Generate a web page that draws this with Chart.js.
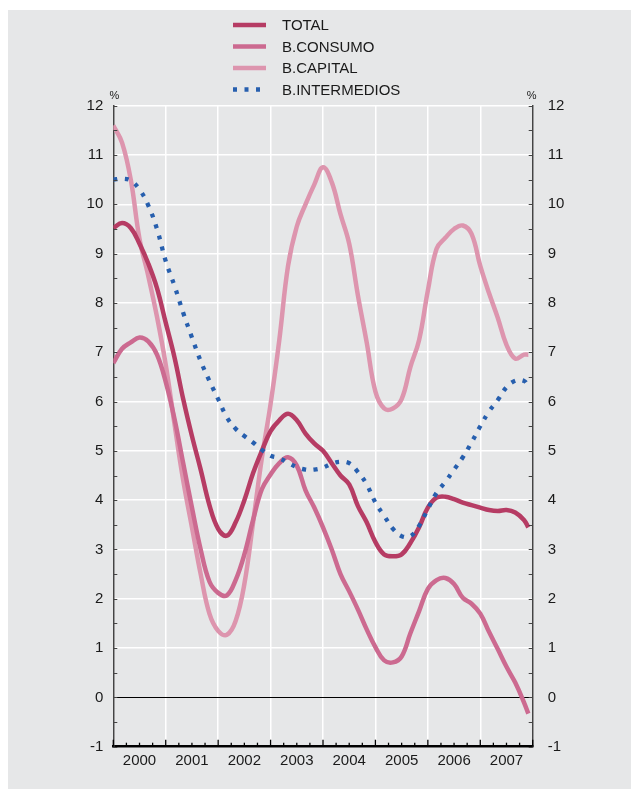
<!DOCTYPE html>
<html>
<head>
<meta charset="utf-8">
<script src="https://cdn.jsdelivr.net/npm/chart.js@4/dist/chart.umd.min.js"></script>
<style>
  html, body { margin: 0; padding: 0; background: #ffffff; }
  #wrap { width: 631px; height: 796px; }
</style>
</head>
<body>
<div id="wrap"><canvas id="chart" width="631" height="796"></canvas></div>
<script>
// month index from Jan 2000 (0) to Dec 2007 (95), read every two months
const months = [0, 2, 4, 6, 8, 10, 12, 14, 16, 18, 20, 22, 24, 26, 28, 30, 32, 34, 36, 38, 40, 42, 44, 46,
  48, 50, 52, 54, 56, 58, 60, 62, 64, 66, 68, 70, 72, 74, 76, 78, 80, 82, 84, 86, 88, 90, 92, 94, 95];
const yearLabels = ['2000', '2001', '2002', '2003', '2004', '2005', '2006', '2007'];
const seriesNames = ['TOTAL', 'B.CONSUMO', 'B.CAPITAL', 'B.INTERMEDIOS'];

const total = [9.52, 9.62, 9.52, 9.2, 8.8, 8.3, 7.6, 6.9, 6.05, 5.3, 4.62, 3.9, 3.42, 3.28, 3.55, 4.0,
  4.55, 5.0, 5.4, 5.62, 5.75, 5.62, 5.35, 5.15, 5.0, 4.75, 4.5, 4.32, 3.88, 3.55, 3.15, 2.9, 2.86, 2.9,
  3.13, 3.45, 3.85, 4.05, 4.07, 4.02, 3.95, 3.9, 3.85, 3.8, 3.78, 3.8, 3.75, 3.6, 3.45];
const consumo = [6.78, 7.07, 7.2, 7.3, 7.22, 6.95, 6.4, 5.65, 4.75, 3.85, 3.0, 2.35, 2.12, 2.07, 2.38, 2.9,
  3.6, 4.22, 4.52, 4.75, 4.87, 4.7, 4.2, 3.85, 3.45, 3.0, 2.5, 2.15, 1.78, 1.38, 1.02, 0.75, 0.71, 0.83,
  1.3, 1.75, 2.2, 2.38, 2.42, 2.3, 2.02, 1.9, 1.7, 1.33, 0.98, 0.62, 0.3, -0.1, -0.33];
const capital = [11.6, 11.25, 10.5, 9.3, 8.55, 7.72, 6.75, 5.55, 4.4, 3.45, 2.5, 1.7, 1.35, 1.27, 1.55, 2.3,
  3.55, 4.85, 5.95, 7.25, 8.75, 9.55, 10.0, 10.4, 10.75, 10.45, 9.8, 9.2, 8.15, 7.2, 6.2, 5.86, 5.86, 6.05,
  6.7, 7.25, 8.25, 9.1, 9.32, 9.5, 9.57, 9.4, 8.75, 8.2, 7.7, 7.15, 6.87, 6.95, 6.95];
const intermedios = [10.5, 10.52, 10.48, 10.3, 9.98, 9.5, 8.85, 8.35, 7.8, 7.3, 6.82, 6.42, 6.05, 5.68, 5.45, 5.3,
  5.17, 5.02, 4.9, 4.85, 4.76, 4.67, 4.62, 4.62, 4.66, 4.74, 4.78, 4.75, 4.57, 4.32, 3.95, 3.68, 3.42, 3.27,
  3.27, 3.48, 3.82, 4.15, 4.37, 4.62, 4.87, 5.17, 5.5, 5.8, 6.03, 6.29, 6.42, 6.42, 6.3];

const LEFT = 113.3, RIGHT = 532.7, TOP = 105.7, BOTTOM = 746.7;
const FONT = "'Liberation Sans', Arial, Helvetica, sans-serif";
const textColor = '#1a1a1a';

function pts(vals) {
  return months.map((m, k) => ({ x: m, y: vals[k] }));
}

// background panel, inward ticks, % marks and legend
const decor = {
  id: 'decor',
  beforeDraw(chart) {
    const ctx = chart.ctx;
    ctx.save();
    ctx.fillStyle = '#e6e7e8';
    ctx.fillRect(8, 10, 623, 779);
    ctx.restore();
  },
  afterDraw(chart) {
    const ctx = chart.ctx;
    const y = chart.scales.y, x = chart.scales.x;
    const a = chart.chartArea;
    ctx.save();
    // y ticks, integers and halves, pointing into the plot
    ctx.strokeStyle = '#444';
    ctx.lineWidth = 1.2;
    for (let v = -1; v <= 12; v += 0.5) {
      const py = Math.round(y.getPixelForValue(v)) + 0.5;
      ctx.beginPath();
      ctx.moveTo(a.left, py); ctx.lineTo(a.left + 4, py);
      ctx.moveTo(a.right, py); ctx.lineTo(a.right - 4, py);
      ctx.stroke();
    }
    // x ticks: quarters short, years long
    ctx.strokeStyle = '#000';
    ctx.lineWidth = 1.3;
    for (let m = 0; m <= 96; m += 3) {
      const px = x.getPixelForValue(m);
      const len = m % 12 === 0 ? 7 : 4;
      ctx.beginPath();
      ctx.moveTo(px, a.bottom); ctx.lineTo(px, a.bottom - len);
      ctx.stroke();
    }
    // % marks
    ctx.fillStyle = textColor;
    ctx.font = '11px ' + FONT;
    ctx.textAlign = 'center';
    ctx.textBaseline = 'middle';
    ctx.fillText('%', a.left + 1, 96);
    ctx.fillText('%', a.right - 1, 96);
    // legend
    ctx.font = '15px ' + FONT;
    ctx.textAlign = 'left';
    chart.data.datasets.forEach((ds, k) => {
      const ly = 25 + k * 21.5;
      ctx.strokeStyle = ds.borderColor;
      ctx.lineWidth = ds.borderDash ? 4.3 : 4.5;
      ctx.lineCap = 'butt';
      ctx.setLineDash(ds.borderDash || []);
      ctx.beginPath();
      ctx.moveTo(233, ly); ctx.lineTo(266, ly);
      ctx.stroke();
      ctx.setLineDash([]);
      ctx.fillStyle = textColor;
      ctx.fillText(ds.label, 282, ly + 1);
    });
    ctx.restore();
  }
};

new Chart(document.getElementById('chart'), {
  type: 'line',
  data: {
    datasets: [
      { label: seriesNames[0], data: pts(total), borderColor: '#b63c64', borderWidth: 4.5, order: 1 },
      { label: seriesNames[1], data: pts(consumo), borderColor: '#cc6a90', borderWidth: 4.5, order: 2 },
      { label: seriesNames[2], data: pts(capital), borderColor: '#dd95ae', borderWidth: 4.5, order: 3 },
      { label: seriesNames[3], data: pts(intermedios), borderColor: '#275fae', borderWidth: 4.3,
        borderDash: [4, 7.5], borderCapStyle: 'butt', order: 0 }
    ]
  },
  options: {
    responsive: false,
    animation: false,
    devicePixelRatio: 1,
    layout: { padding: { top: TOP, left: 0, right: 0, bottom: 0 } },
    elements: {
      point: { radius: 0 },
      line: { tension: 0.4, fill: false }
    },
    plugins: {
      legend: { display: false },
      tooltip: { enabled: false }
    },
    scales: {
      x: {
        type: 'linear',
        position: 'bottom',
        min: 0,
        max: 96,
        afterBuildTicks: s => {
          const t = [];
          for (let v = 0; v <= 96; v += 6) t.push({ value: v });
          s.ticks = t;
        },
        afterFit: s => { s.height = 796 - BOTTOM; },
        ticks: {
          autoSkip: false,
          maxRotation: 0,
          minRotation: 0,
          padding: 5,
          color: textColor,
          font: { family: FONT, size: 15 },
          callback: v => (v % 12 === 6 ? yearLabels[(v - 6) / 12] : '')
        },
        grid: {
          drawTicks: false,
          lineWidth: 1.5,
          color: c => (c.tick && c.tick.value % 12 === 0 ? '#ffffff' : 'rgba(0,0,0,0)')
        },
        border: { color: '#000', width: 2.5 }
      },
      y: {
        position: 'left',
        min: -1,
        max: 12,
        afterFit: s => { s.width = LEFT; },
        ticks: {
          stepSize: 1,
          padding: 10,
          color: textColor,
          font: { family: FONT, size: 15 }
        },
        grid: {
          drawTicks: false,
          lineWidth: c => (c.tick && c.tick.value === 0 ? 1 : 1.5),
          color: c => (c.tick && c.tick.value === 0 ? '#000000' : '#ffffff')
        },
        border: { color: '#444', width: 1.5 }
      },
      y2: {
        position: 'right',
        min: -1,
        max: 12,
        afterFit: s => { s.width = 631 - RIGHT; },
        ticks: {
          stepSize: 1,
          padding: 15,
          color: textColor,
          font: { family: FONT, size: 15 }
        },
        grid: { drawTicks: false, drawOnChartArea: false },
        border: { color: '#444', width: 1.5 }
      }
    }
  },
  plugins: [decor]
});
</script>
</body>
</html>
